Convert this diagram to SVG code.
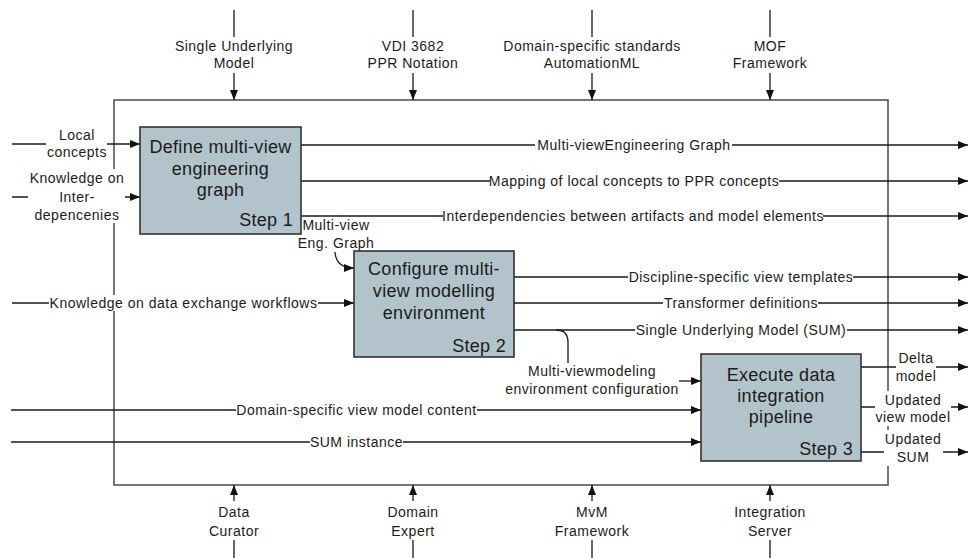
<svg xmlns="http://www.w3.org/2000/svg" width="974" height="558" viewBox="0 0 974 558">
  <defs>
    <marker id="arrow" markerUnits="userSpaceOnUse" markerWidth="11" markerHeight="9" refX="10" refY="4" orient="auto">
      <path d="M0,0 L10,4 L0,8 z" fill="#111"/>
    </marker>
    <style>
      .frame { fill: none; stroke: #555; stroke-width: 1.6; }
      .box { fill: #b3c3cc; stroke: #333; stroke-width: 1.6; }
      .ln { fill: none; stroke: #1a1a1a; stroke-width: 1.3; }
      .arr { fill: none; stroke: #1a1a1a; stroke-width: 1.3; marker-end: url(#arrow); }
      .bg { fill: #fff; }
      .lbl { font-family: "Liberation Sans", Arial, sans-serif; font-size: 14px; letter-spacing: 0.5px; fill: #1b1b1b; text-anchor: middle; }
      .title { font-family: "Liberation Sans", Arial, sans-serif; font-size: 18px; letter-spacing: 0.3px; fill: #1b1b1b; text-anchor: middle; }
      .step { font-family: "Liberation Sans", Arial, sans-serif; font-size: 18px; letter-spacing: 0.3px; fill: #1b1b1b; text-anchor: end; }
    </style>
  </defs>

  <rect width="974" height="558" fill="#fff"/>

  <!-- context frame -->
  <g id="frame">
    <rect class="frame" x="114" y="100" width="774" height="385"/>
  </g>

  <!-- connectors -->
  <g id="connectors">
    <!-- controls from above -->
    <path class="ln" d="M234 10 V37 M413 10 V37 M592 10 V37 M770 10 V37"/>
    <path class="arr" d="M234 73 V100"/>
    <path class="arr" d="M413 73 V100"/>
    <path class="arr" d="M592 73 V100"/>
    <path class="arr" d="M770 73 V100"/>
    <!-- mechanisms from below -->
    <path class="arr" d="M234 501 V485"/>
    <path class="arr" d="M413 501 V485"/>
    <path class="arr" d="M592 501 V485"/>
    <path class="arr" d="M770 501 V485"/>
    <path class="ln" d="M234 540 V558 M413 540 V558 M592 540 V558 M770 540 V558"/>

    <!-- step 1 inputs -->
    <path class="arr" d="M12 144 H140"/>
    <path class="arr" d="M12 197 H140"/>
    <!-- step 1 outputs -->
    <path class="arr" d="M301 145 H968"/>
    <path class="arr" d="M301 181 H968"/>
    <path class="arr" d="M301 216 H968"/>
    <path class="arr" d="M335 252 Q336 268 354 268"/>

    <!-- step 2 inputs/outputs -->
    <path class="arr" d="M12 303 H354"/>
    <path class="arr" d="M514 277 H968"/>
    <path class="arr" d="M514 303 H968"/>
    <path class="arr" d="M514 330 H968"/>
    <path class="ln" d="M556 330 Q568 330 568 342 V363"/>

    <!-- step 3 inputs/outputs -->
    <path class="arr" d="M679 381 H701"/>
    <path class="arr" d="M11 410 H701"/>
    <path class="arr" d="M11 442 H701"/>
    <path class="arr" d="M861 367 H968"/>
    <path class="arr" d="M861 407 H968"/>
    <path class="arr" d="M861 452 H968"/>
  </g>

  <!-- connector labels -->
  <g id="labels">
    <text class="lbl" x="234" y="51">Single Underlying</text>
    <text class="lbl" x="234" y="68">Model</text>
    <text class="lbl" x="413" y="51">VDI 3682</text>
    <text class="lbl" x="413" y="68">PPR Notation</text>
    <text class="lbl" x="592" y="51">Domain-specific standards</text>
    <text class="lbl" x="592" y="68">AutomationML</text>
    <text class="lbl" x="770" y="51">MOF</text>
    <text class="lbl" x="770" y="68">Framework</text>

    <text class="lbl" x="234" y="517">Data</text>
    <text class="lbl" x="234" y="536">Curator</text>
    <text class="lbl" x="413" y="517">Domain</text>
    <text class="lbl" x="413" y="536">Expert</text>
    <text class="lbl" x="592" y="517">MvM</text>
    <text class="lbl" x="592" y="536">Framework</text>
    <text class="lbl" x="770" y="517">Integration</text>
    <text class="lbl" x="770" y="536">Server</text>

    <rect class="bg" x="46" y="126" width="61" height="35"/>
    <text class="lbl" x="77" y="140">Local</text>
    <text class="lbl" x="77" y="157">concepts</text>
    <rect class="bg" x="28" y="169" width="97" height="54"/>
    <text class="lbl" x="77" y="183">Knowledge on</text>
    <text class="lbl" x="77" y="202">Inter-</text>
    <text class="lbl" x="77" y="220">depencenies</text>

    <rect class="bg" x="535" y="137" width="197" height="16"/>
    <text class="lbl" x="634" y="150">Multi-viewEngineering Graph</text>
    <rect class="bg" x="490" y="173" width="289" height="16"/>
    <text class="lbl" x="634" y="186">Mapping of local concepts to PPR concepts</text>
    <rect class="bg" x="443" y="208" width="380" height="16"/>
    <text class="lbl" x="633" y="221">Interdependencies between artifacts and model elements</text>

    <text class="lbl" x="336" y="230">Multi-view</text>
    <text class="lbl" x="336" y="248">Eng. Graph</text>

    <rect class="bg" x="49" y="295" width="269" height="16"/>
    <text class="lbl" x="183.5" y="308">Knowledge on data exchange workflows</text>

    <rect class="bg" x="628" y="269" width="225" height="16"/>
    <text class="lbl" x="741" y="282">Discipline-specific view templates</text>
    <rect class="bg" x="663" y="295" width="155" height="16"/>
    <text class="lbl" x="741" y="308">Transformer definitions</text>
    <rect class="bg" x="635" y="322" width="212" height="16"/>
    <text class="lbl" x="741" y="335">Single Underlying Model (SUM)</text>

    <text class="lbl" x="592" y="376">Multi-viewmodeling</text>
    <text class="lbl" x="592" y="394">environment configuration</text>

    <rect class="bg" x="236" y="402" width="241" height="16"/>
    <text class="lbl" x="356.5" y="415">Domain-specific view model content</text>
    <rect class="bg" x="310" y="434" width="93" height="16"/>
    <text class="lbl" x="356.5" y="447">SUM instance</text>

    <rect class="bg" x="896" y="350" width="40" height="35"/>
    <text class="lbl" x="916" y="363">Delta</text>
    <text class="lbl" x="916" y="381">model</text>
    <rect class="bg" x="875" y="391" width="76" height="35"/>
    <text class="lbl" x="913" y="405">Updated</text>
    <text class="lbl" x="913" y="422">view model</text>
    <rect class="bg" x="884" y="430" width="59" height="36"/>
    <text class="lbl" x="913" y="444">Updated</text>
    <text class="lbl" x="913" y="462">SUM</text>
  </g>

  <!-- activity: step 1 -->
  <g id="step1">
    <rect class="box" x="140" y="127" width="161" height="107"/>
    <text class="title" x="220.5" y="153">Define multi-view</text>
    <text class="title" x="220.5" y="174.5">engineering</text>
    <text class="title" x="220.5" y="196">graph</text>
    <text class="step" x="293" y="226">Step 1</text>
  </g>

  <!-- activity: step 2 -->
  <g id="step2">
    <rect class="box" x="354" y="251" width="160" height="106"/>
    <text class="title" x="434" y="275">Configure multi-</text>
    <text class="title" x="434" y="297">view modelling</text>
    <text class="title" x="434" y="319">environment</text>
    <text class="step" x="506" y="352">Step 2</text>
  </g>

  <!-- activity: step 3 -->
  <g id="step3">
    <rect class="box" x="701" y="354" width="160" height="107"/>
    <text class="title" x="781" y="381">Execute data</text>
    <text class="title" x="781" y="402">integration</text>
    <text class="title" x="781" y="423">pipeline</text>
    <text class="step" x="853" y="455">Step 3</text>
  </g>
</svg>
